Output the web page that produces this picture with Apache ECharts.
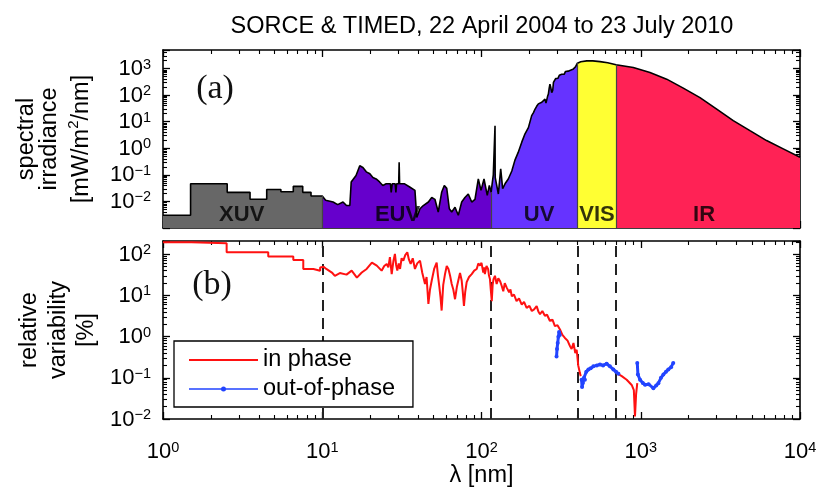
<!DOCTYPE html>
<html><head><meta charset="utf-8">
<script src="https://cdn.jsdelivr.net/npm/echarts@6/dist/echarts.min.js"></script>
<style>html,body{margin:0;padding:0;background:#fff}#c{width:817px;height:487px}</style>
</head><body><div id="c"></div>
<script>
// Spectral bands
const bandNames = ['XUV', 'EUV', 'UV', 'VIS', 'IR'];
const bandLabelX = [3.12, 29.7, 230, 531, 2500];
const bandColors = ['#676767', '#6600cc', '#6633ff', '#ffff33', '#ff2255'];

// Solar spectral irradiance [mW/m^2/nm] as [wavelength nm, value]
const spectrumXUV = [[1, 0.003], [1.49, 0.003], [1.49, 0.046], [2.53, 0.046], [2.53, 0.022], [3.52, 0.022], [3.52, 0.012], [4.48, 0.012], [4.48, 0.028], [5.5, 0.028], [5.5, 0.023], [6.58, 0.023], [6.58, 0.037], [7.54, 0.037], [7.54, 0.022], [8.5, 0.022], [8.5, 0.016], [10, 0.016]];
const spectrumEUV = [[10, 0.016], [10.5, 0.011], [11.7, 0.0095], [12.5, 0.0076], [13.5, 0.0095], [14.2, 0.007], [14.9, 0.007], [15.2, 0.054], [16.3, 0.095], [17.2, 0.22], [18, 0.19], [18.9, 0.13], [19.9, 0.11], [20.8, 0.08], [21.8, 0.07], [22.9, 0.054], [24, 0.04], [25.2, 0.046], [26.8, 0.046], [27.1, 0.022], [27.5, 0.046], [28.7, 0.046], [29, 0.022], [29.3, 0.046], [30.2, 0.046], [30.4, 0.3], [30.6, 0.046], [32.9, 0.046], [35.4, 0.035], [38.2, 0.026], [39.2, 0.0025], [41.1, 0.0053], [43.1, 0.007], [46.4, 0.0095], [48.7, 0.014], [51, 0.012], [53.5, 0.004], [56.2, 0.022], [58.4, 0.04], [60.5, 0.031], [62.8, 0.0053], [65, 0.004], [68.2, 0.006], [71.5, 0.003], [75.1, 0.0095], [78.7, 0.014], [82.6, 0.019], [86.8, 0.0095], [91, 0.012], [95.5, 0.07], [99.3, 0.026], [103.7, 0.07], [108.7, 0.017], [112, 0.04], [115, 0.022]];
const spectrumUV = [[115, 0.022], [116, 0.035], [118.6, 0.1], [121.3, 0.1], [121.6, 7], [121.9, 0.08], [124.5, 0.08], [127.6, 0.019], [132, 0.17], [135.8, 0.03], [140.5, 0.046], [147.3, 0.07], [155, 0.14], [162, 0.35], [170, 0.7], [179, 1.7], [187.6, 3.5], [197, 6], [206.6, 17], [212, 22], [217, 30], [222, 38], [227.5, 47], [233, 44], [239, 54], [245, 62], [250.5, 71], [254, 50], [257, 47], [260, 90], [263, 110], [266, 180], [269, 260], [272, 200], [276, 125], [280, 150], [283, 300], [288, 330], [292, 420], [297, 460], [302, 430], [308, 560], [314, 540], [319, 610], [325, 650], [331, 620], [337, 780], [343, 820], [350, 800], [356, 900], [362, 870], [368, 950], [375, 940], [382, 1050], [389, 1150], [396, 1260], [400, 1600]];
const spectrumVIS = [[400, 1600], [420, 1800], [458, 1950], [500, 1950], [555, 1830], [620, 1650], [700, 1400]];
const spectrumIR = [[700, 1400], [898, 1090], [1143, 710], [1455, 400], [1850, 184], [2355, 81], [3000, 30], [3810, 11], [4850, 4.6], [6170, 1.95], [7850, 0.95], [10000, 0.46]];

// Relative variability [%] between solar max and min
const inPhaseShort = [[1, 195], [1.51, 195], [1.51, 185], [2.51, 185], [2.51, 112], [4.58, 112], [4.58, 88], [6.58, 88], [6.58, 73], [7.6, 73], [7.6, 44], [8.8, 44], [8.8, 40], [9.7, 40], [9.7, 48], [10.2, 50], [10.6, 44], [11.5, 36], [12, 30], [12.9, 35], [14.2, 32], [15.3, 40], [16.5, 27], [17.7, 36], [19, 44], [20.5, 63], [22, 53], [23.6, 40], [24.5, 52], [25.4, 58], [26, 48], [26.6, 85], [27.3, 33], [28, 70], [28.6, 102], [29.1, 55], [29.6, 40], [30.2, 60], [30.8, 44], [31.5, 80], [32.3, 70], [33.2, 95], [34.2, 112], [35, 75], [35.9, 58], [37, 80], [38.2, 44], [39.5, 60], [41.1, 70], [42.5, 35], [44.2, 19], [45.2, 28], [46.4, 6.2], [47.5, 14], [48.7, 23], [50.5, 45], [52.3, 63], [53.3, 30], [54.4, 16], [55.3, 9], [56.2, 4.3], [57.5, 18], [59, 33], [60.5, 52], [62, 44], [63.5, 30], [65, 19], [66.5, 14], [68.2, 8.1], [70, 16], [71.5, 23], [73.3, 35], [75.1, 23], [76.3, 12], [77.6, 5.6], [79, 12], [80.7, 21], [83.5, 28], [86.8, 33], [90, 40], [93.3, 44], [95.5, 60], [97.9, 53], [100, 62], [102.6, 36], [104, 48], [105, 33], [107.5, 52], [110, 44], [111.5, 30], [113, 25], [114.5, 13], [116, 7.3], [117.5, 18], [119, 25], [121.5, 30], [124.5, 19], [127.5, 26], [131, 22], [134, 17], [137, 12.6], [140, 20], [144, 15.5], [149, 12], [152, 14], [155, 9.6], [160, 10.5], [166, 7.3], [172, 8.5], [179, 6], [185, 7], [192, 5], [200, 5.6], [207, 4.2], [214, 4.6], [222, 5.5], [228, 4], [233, 3.5], [241, 4.2], [250, 3.2], [258, 3.4], [269, 2.4], [279, 2.6], [289, 1.8], [300, 1.9], [311, 1.5], [322, 1.1], [334, 0.93], [347, 0.8], [360, 0.58], [368, 0.5], [378, 0.7], [388, 0.4], [396, 0.48], [405, 0.2], [415, 0.13], [420, 0.11]];
const inPhaseLong = [[706, 0.13], [760, 0.11], [816, 0.09], [877, 0.067], [905, 0.05], [920, 0.0115], [935, 0.04], [951, 0.074]];
const outOfPhaseUV = [[296, 0.33], [298, 0.5], [301, 0.7], [304, 1.0], [307, 1.3], [310, 1.1]];
const outOfPhaseVIS = [[425, 0.09], [428, 0.06], [433, 0.075], [440, 0.1], [446, 0.09], [455, 0.14], [469, 0.16], [485, 0.17], [504, 0.19], [530, 0.2], [555, 0.21], [580, 0.2], [611, 0.22], [640, 0.19], [673, 0.16], [700, 0.14], [724, 0.125]];
const outOfPhaseIR = [[951, 0.23], [960, 0.12], [990, 0.09], [1030, 0.075], [1064, 0.068], [1120, 0.07], [1200, 0.056], [1250, 0.065], [1290, 0.074], [1340, 0.1], [1387, 0.12], [1440, 0.14], [1490, 0.16], [1550, 0.18], [1600, 0.23]];

// Band boundaries marked in the variability panel
const boundaryLines = [10, 115, 400, 700];

const FONT = 'Liberation Sans, Arial, Helvetica, sans-serif';
const SERIF = 'Liberation Serif, Times New Roman, serif';
const SPEC_MIN = 0.001, SPEC_MAX = 5000;
const VAR_MIN = 0.01, VAR_MAX = 210;

function powerLabel(lo, hi) {
  return function (v) {
    const l = Math.log10(v);
    const e = Math.round(l);
    if (Math.abs(l - e) > 1e-6 || e < lo || e > hi) return '';
    return '{b|10}{s|' + (e < 0 ? '\u2212' + (-e) : e) + '}';
  };
}
const richPow = {
  b: { fontSize: 22, lineHeight: 23, verticalAlign: 'bottom', color: '#000', fontFamily: FONT },
  s: { fontSize: 14.5, lineHeight: 15, verticalAlign: 'top', color: '#000', fontFamily: FONT }
};

function logAxis(extra) {
  return Object.assign({
    type: 'log', logBase: 10, interval: 1,
    axisLine: { show: true, onZero: false, lineStyle: { color: '#000', width: 1.6 } },
    axisTick: { show: true, inside: true, length: 7, lineStyle: { color: '#000', width: 1.3 } },
    minorTick: { show: true, splitNumber: 9, length: 4, lineStyle: { color: '#000', width: 1.1 } },
    splitLine: { show: false },
    minorSplitLine: { show: false },
    axisLabel: { show: false }
  }, extra);
}

const xCommon = { min: 1, max: 10000 };
const xAxes = [
  logAxis(Object.assign({ gridIndex: 0, position: 'bottom' }, xCommon)),
  logAxis(Object.assign({ gridIndex: 0, position: 'top' }, xCommon)),
  logAxis(Object.assign({
    gridIndex: 1, position: 'bottom',
    name: '\u03bb [nm]', nameLocation: 'middle', nameGap: 44,
    nameTextStyle: { fontSize: 23.5, color: '#000', fontFamily: FONT },
    axisLabel: { show: true, margin: 21, formatter: powerLabel(0, 4), rich: richPow }
  }, xCommon)),
  logAxis(Object.assign({ gridIndex: 1, position: 'top' }, xCommon))
];
const yAxes = [
  logAxis({ gridIndex: 0, position: 'left', min: SPEC_MIN, max: SPEC_MAX,
    axisLabel: { show: true, margin: 12, formatter: powerLabel(-2, 3), rich: richPow } }),
  logAxis({ gridIndex: 0, position: 'right', min: SPEC_MIN, max: SPEC_MAX }),
  logAxis({ gridIndex: 1, position: 'left', min: VAR_MIN, max: VAR_MAX,
    axisLabel: { show: true, margin: 12, formatter: powerLabel(-2, 2), rich: richPow } }),
  logAxis({ gridIndex: 1, position: 'right', min: VAR_MIN, max: VAR_MAX })
];

const bandData = [spectrumXUV, spectrumEUV, spectrumUV, spectrumVIS, spectrumIR];
const series = [];

// filled spectral bands
bandData.forEach(function (d, i) {
  series.push({
    type: 'line', xAxisIndex: 0, yAxisIndex: 0, data: d, silent: true,
    symbol: 'none', lineStyle: { width: 0 }, z: 1,
    areaStyle: { color: bandColors[i], opacity: 1, origin: 'start' }
  });
});

// outline of the full spectrum plus band separators
const fullSpectrum = [].concat(spectrumXUV, spectrumEUV.slice(1), spectrumUV.slice(1), spectrumVIS.slice(1), spectrumIR.slice(1));
const separators = [spectrumEUV[0], spectrumUV[0], spectrumVIS[0], spectrumIR[0]].map(function (p) {
  return [{ coord: [p[0], SPEC_MIN] }, { coord: [p[0], p[1]] }];
});
series.push({
  type: 'line', xAxisIndex: 0, yAxisIndex: 0, data: fullSpectrum, silent: true,
  symbol: 'none', z: 3, lineStyle: { color: '#000', width: 1.6 },
  markLine: { silent: true, symbol: 'none', label: { show: false },
    lineStyle: { color: '#444', width: 1.2, type: 'solid' }, data: separators }
});

// band names
series.push({
  type: 'scatter', xAxisIndex: 0, yAxisIndex: 0, silent: true, z: 4,
  data: bandNames.map(function (n, i) { return { value: [bandLabelX[i], 0.0032], name: n }; }),
  symbolSize: 0,
  label: { show: true, formatter: '{b}', position: 'inside', color: '#000', fontSize: 22, fontWeight: 'bold', fontFamily: FONT }
});

// variability
const redStyle = { color: '#ff1111', width: 2 };
const blueStyle = { color: '#2244ff', width: 3 };
[inPhaseShort, inPhaseLong].forEach(function (d, i) {
  series.push({
    type: 'line', name: 'in phase', xAxisIndex: 2, yAxisIndex: 2, data: d, z: 3,
    symbol: 'none', color: '#ff1111', lineStyle: redStyle,
    markLine: i === 0 ? { silent: true, symbol: 'none', label: { show: false }, z: 2,
      lineStyle: { color: '#222', width: 2, type: [11, 7] },
      data: boundaryLines.map(function (x) { return { xAxis: x }; }) } : undefined
  });
});
[outOfPhaseUV, outOfPhaseVIS, outOfPhaseIR].forEach(function (d) {
  series.push({
    type: 'line', name: 'out-of-phase', xAxisIndex: 2, yAxisIndex: 2, data: d, z: 4,
    symbol: 'circle', symbolSize: 4, showSymbol: true, color: '#2244ff',
    itemStyle: { color: '#2244ff' }, lineStyle: blueStyle
  });
});

const chart = echarts.init(document.getElementById('c'), null, { renderer: 'canvas' });
chart.setOption({
  animation: false,
  backgroundColor: '#fff',
  textStyle: { fontFamily: FONT },
  grid: [
    { left: 163, right: 17, top: 50, height: 178, outerBoundsMode: 'none', containLabel: false },
    { left: 163, right: 17, top: 241, height: 178, outerBoundsMode: 'none', containLabel: false }
  ],
  xAxis: xAxes,
  yAxis: yAxes,
  legend: {
    data: [
      { name: 'in phase', icon: 'path://M0,0H69V2H0Z' },
      { name: 'out-of-phase', icon: 'path://M0,3.2H69V4.8H0Z M34.5,1.5A2.5,2.5 0 1 1 34.5,6.5A2.5,2.5 0 1 1 34.5,1.5Z' }
    ],
    orient: 'vertical', left: 174, top: 341,
    itemWidth: 69, itemHeight: 10, itemGap: 5,
    padding: [7, 18, 6, 15],
    borderColor: '#000', borderWidth: 1.3, backgroundColor: '#fff',
    textStyle: { fontSize: 23.5, color: '#000', fontFamily: FONT },
    selectedMode: false
  },
  series: series,
  graphic: [
    { type: 'text', x: 482, y: 27, style: { text: 'SORCE & TIMED, 22 April 2004 to 23 July 2010', font: '23.5px ' + FONT, fill: '#000', textAlign: 'center', textVerticalAlign: 'middle' } },
    { type: 'text', x: 215, y: 89, z: 10, style: { text: '(a)', font: '34px ' + SERIF, fill: '#111', textAlign: 'center', textVerticalAlign: 'middle' } },
    { type: 'text', x: 212, y: 285, z: 10, style: { text: '(b)', font: '34px ' + SERIF, fill: '#111', textAlign: 'center', textVerticalAlign: 'middle' } },
    { type: 'text', x: 27, y: 139, rotation: Math.PI / 2, style: { text: 'spectral', font: '23.5px ' + FONT, fill: '#000', textAlign: 'center', textVerticalAlign: 'middle' } },
    { type: 'text', x: 50, y: 139, rotation: Math.PI / 2, style: { text: 'irradiance', font: '23.5px ' + FONT, fill: '#000', textAlign: 'center', textVerticalAlign: 'middle' } },
    { type: 'text', x: 80, y: 139, rotation: Math.PI / 2, style: { text: '{n|[mW/m}{s|2}{n|/nm]}', textAlign: 'center', textVerticalAlign: 'middle',
      rich: { n: { fontSize: 23.5, fontFamily: FONT, fill: '#000', lineHeight: 27, verticalAlign: 'bottom' }, s: { fontSize: 15, fontFamily: FONT, fill: '#000', lineHeight: 15, verticalAlign: 'top' } } } },
    { type: 'text', x: 30, y: 330, rotation: Math.PI / 2, style: { text: 'relative', font: '23.5px ' + FONT, fill: '#000', textAlign: 'center', textVerticalAlign: 'middle' } },
    { type: 'text', x: 59, y: 330, rotation: Math.PI / 2, style: { text: 'variability', font: '23.5px ' + FONT, fill: '#000', textAlign: 'center', textVerticalAlign: 'middle' } },
    { type: 'text', x: 87, y: 330, rotation: Math.PI / 2, style: { text: '[%]', font: '23.5px ' + FONT, fill: '#000', textAlign: 'center', textVerticalAlign: 'middle' } }
  ]
});
</script></body></html>
